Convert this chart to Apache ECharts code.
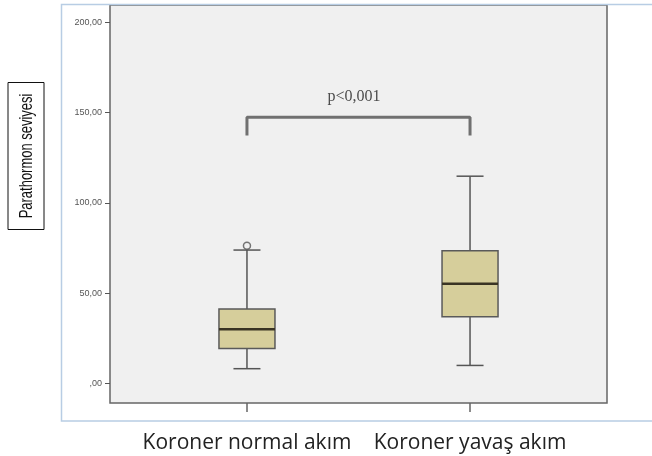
<!DOCTYPE html>
<html lang="tr">
<head>
    <meta charset="UTF-8">
    <title>Parathormon seviyesi</title>
    <script src="https://cdn.jsdelivr.net/npm/echarts@6/dist/echarts.min.js"></script>
    <style>
        html, body { margin: 0; padding: 0; background: #fff; }
    </style>
</head>
<body>
<div id="main" style="width:652px;height:456px;"></div>
<script type="text/javascript">
    // veriler
    var categories = ['Koroner normal akım', 'Koroner yavaş akım'];
    var lowWhisker = [8.2, 10.0];
    var q1 = [19.4, 37.0];
    var median = [30.0, 55.2];
    var q3 = [41.3, 73.5];
    var highWhisker = [73.9, 114.8];
    var outliers = [[0, 76.3]];
    var yTicks = [0, 50, 100, 150, 200];
    var yTickLabels = [',00', '50,00', '100,00', '150,00', '200,00'];
    var bracketPoints = [[0, 137.4], [0, 147.4], [1, 147.4], [1, 137.4]];
    var pLabel = 'p<0,001';
    var pLabelPos = [[0.48, 159]];

    var boxRows = [];
    categories.forEach(function (c, i) {
        boxRows.push([i, lowWhisker[i], q1[i], median[i], q3[i], highWhisker[i]]);
    });

    var myChart = echarts.init(document.getElementById('main'));

    function renderBox(params, api) {
        var x = api.value(0);
        var lo = api.coord([x, api.value(1)]);
        var b1 = api.coord([x, api.value(2)]);
        var md = api.coord([x, api.value(3)]);
        var b3 = api.coord([x, api.value(4)]);
        var hi = api.coord([x, api.value(5)]);
        var half = 28, cap = 13.5;
        var cx = lo[0];
        var ln = { stroke: '#555', lineWidth: 1.5 };
        return {
            type: 'group',
            children: [
                { type: 'line', shape: { x1: cx, y1: lo[1], x2: cx, y2: b1[1] }, style: ln },
                { type: 'line', shape: { x1: cx, y1: hi[1], x2: cx, y2: b3[1] }, style: ln },
                { type: 'line', shape: { x1: cx - cap, y1: lo[1], x2: cx + cap, y2: lo[1] }, style: ln },
                { type: 'line', shape: { x1: cx - cap, y1: hi[1], x2: cx + cap, y2: hi[1] }, style: ln },
                { type: 'rect', shape: { x: cx - half, y: b3[1], width: half * 2, height: b1[1] - b3[1] },
                  style: { fill: '#d6ce9b', stroke: '#5a5a5a', lineWidth: 1.5 } },
                { type: 'line', shape: { x1: cx - half, y1: md[1], x2: cx + half, y2: md[1] },
                  style: { stroke: '#3a3424', lineWidth: 2.5 } }
            ]
        };
    }

    var option = {
        animation: false,
        backgroundColor: '#fff',
        grid: {
            left: 110, right: 45, top: 5, bottom: 53,
            outerBoundsMode: 'none',
            containLabel: false,
            show: true,
            backgroundColor: '#f0f0f0',
            borderColor: '#666',
            borderWidth: 1.5
        },
        xAxis: {
            type: 'value',
            min: -0.614,
            max: 1.614,
            splitLine: { show: false },
            axisLine: { show: false, onZero: false },
            axisTick: { show: true, customValues: [0, 1], length: 9, lineStyle: { color: '#666', width: 1.5 } },
            axisLabel: {
                customValues: [0, 1],
                formatter: function (v) { return categories[Math.round(v)]; },
                fontFamily: 'Open Sans',
                fontSize: 21,
                color: '#222',
                margin: 30
            }
        },
        yAxis: {
            type: 'value',
            min: -10.8,
            max: 209.6,
            splitLine: { show: false },
            axisLine: { show: false, onZero: false },
            axisTick: { show: true, customValues: yTicks, length: 5, lineStyle: { color: '#555' } },
            axisLabel: {
                customValues: yTicks,
                formatter: function (v) { return yTickLabels[yTicks.indexOf(Math.round(v))]; },
                fontFamily: 'Liberation Sans',
                fontSize: 9,
                color: '#555',
                margin: 8
            }
        },
        graphic: [
            {
                type: 'rect', z: 100, silent: true,
                shape: { x: 61.5, y: 4.5, width: 640, height: 416.5 },
                style: { fill: 'none', stroke: '#b8cde4', lineWidth: 1.5 }
            },
            {
                type: 'group', x: 26, y: 156, rotation: Math.PI / 2, z: 100,
                children: [
                    { type: 'rect', shape: { x: -73.5, y: -18, width: 147, height: 36 },
                      style: { fill: '#fff', stroke: '#111', lineWidth: 1 } },
                    { type: 'text', x: 0, y: 1, scaleX: 0.72,
                      style: { text: 'Parathormon seviyesi', fill: '#111',
                               font: '18px "Liberation Sans"',
                               align: 'center', verticalAlign: 'middle' } }
                ]
            }
        ],
        series: [
            {
                type: 'custom',
                renderItem: renderBox,
                data: boxRows,
                encode: { x: 0, y: [1, 2, 3, 4, 5] },
                silent: true
            },
            {
                type: 'scatter',
                data: outliers,
                symbol: 'circle',
                symbolSize: 7,
                itemStyle: { color: '#f0f0f0', borderColor: '#555', borderWidth: 1.5 },
                z: 5
            },
            {
                type: 'line',
                data: bracketPoints,
                symbol: 'none',
                lineStyle: { color: '#707070', width: 3 },
                silent: true
            },
            {
                type: 'scatter',
                data: pLabelPos,
                symbolSize: 0,
                label: {
                    show: true,
                    position: 'inside',
                    formatter: pLabel,
                    fontFamily: 'Liberation Serif',
                    fontSize: 16,
                    color: '#222'
                },
                silent: true
            }
        ]
    };
    myChart.setOption(option);
</script>
</body>
</html>
